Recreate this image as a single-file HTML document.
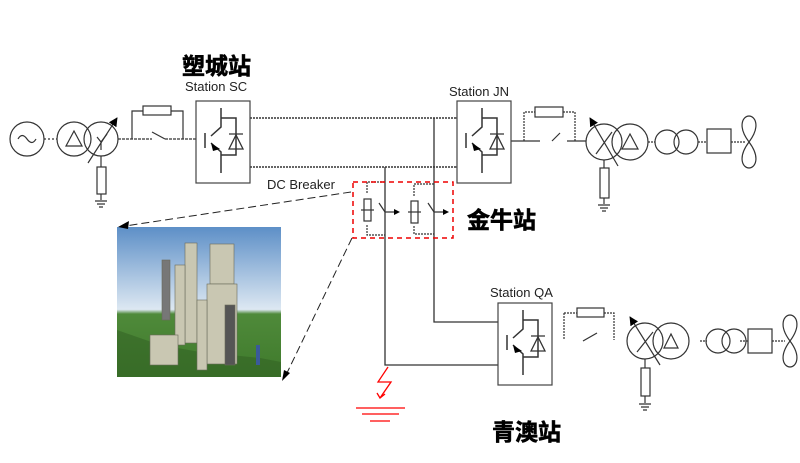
<!DOCTYPE html>
<html><head><meta charset="utf-8"><style>
body{margin:0;background:#fff;width:800px;height:463px;overflow:hidden}
svg{display:block}
text{font-family:"Liberation Sans","Noto Sans CJK SC",sans-serif}
.cn{font-weight:bold;font-size:23px;fill:#000;stroke:#000;stroke-width:0.6}
.lb{font-size:13px;fill:#222}
</style></head><body>
<svg width="800" height="463" viewBox="0 0 800 463" xmlns="http://www.w3.org/2000/svg">
<defs>
<marker id="ah" viewBox="0 0 10 10" refX="9" refY="5" markerWidth="9" markerHeight="9" orient="auto" markerUnits="userSpaceOnUse">
<path d="M0 0L10 5L0 10Z" fill="#000"/></marker>
<linearGradient id="sky" x1="0" y1="0" x2="0" y2="1">
<stop offset="0" stop-color="#5d8fc7"/><stop offset="0.55" stop-color="#dde8f2"/><stop offset="0.58" stop-color="#4f8a3a"/><stop offset="1" stop-color="#3f7a2c"/>
</linearGradient>
<g id="conv">
<rect x="0" y="0" width="54" height="82" fill="none" stroke="#444" stroke-width="1.2"/>
<path d="M25 7V26L15 35M15 42L25 51V72M9 32V47M25 17H40V54H25" fill="none" stroke="#333" stroke-width="1.5"/>
<path d="M15 42L24 48L17 50Z" fill="#000"/>
<path d="M33 48L40 34L47 48ZM33 33H47" fill="none" stroke="#333" stroke-width="1.3"/>
</g>
</defs>
<g fill="none" stroke="#333" stroke-width="1.2">
<!-- left source -->
<circle cx="27" cy="139" r="17"/><path d="M18 139q4-7 9 0t9 0"/>
<path d="M44 139H57" stroke-dasharray="2 2"/>
<circle cx="74" cy="139" r="17"/><path d="M66 146L74 131L82 146Z"/>
<circle cx="101" cy="139" r="17"/>
<path d="M88 163L117 118" marker-end="url(#ah)"/><path d="M97 137L101 142L107 134M101 142V150"/>
<path d="M101 156V167"/><rect x="97" y="167" width="9" height="27"/><path d="M101 194V200M95 201H107M97 204H105M99 207H103"/>
<path d="M118 139H152M165 139H196" stroke-dasharray="3 1"/><path d="M152 132L165 139"/>
<path d="M132 139V111H143M171 111H183V139"/><rect x="143" y="106" width="28" height="9"/>
<!-- DC lines -->
<path d="M250 118H457M250 167H457" stroke-dasharray="2 1" stroke-width="1.4"/>
<path d="M434 118V322H498M385 167V365H498" stroke-width="1.3"/>
<!-- JN right side -->
<path d="M511 141H540M552 141L560 133M567 141H586"/>
<path d="M524 141V112H535M563 112H575V141" stroke-dasharray="2 1"/><rect x="535" y="107" width="28" height="10"/>
<circle cx="604" cy="142" r="18"/><circle cx="630" cy="142" r="18"/><path d="M622 149L630 134L638 149Z"/>
<path d="M618 166L590 118" marker-end="url(#ah)"/><path d="M596 154L612 132"/>
<path d="M604 160V168"/><rect x="600" y="168" width="9" height="30"/><path d="M604 198V204M598 205H610M600 208H608M602 211H606"/>
<path d="M648 142H655M698 142H707M731 142H745" stroke-dasharray="2 1"/>
<circle cx="667" cy="142" r="12"/><circle cx="686" cy="142" r="12"/>
<rect x="707" y="129" width="24" height="24"/>
<path d="M749 142C737 126 743 116 749 116C755 116 761 126 749 142C737 158 743 168 749 168C755 168 761 158 749 142Z"/>
<!-- QA right side -->
<path d="M564 313V340M564 313H577M604 313H614V340" stroke-dasharray="2 1"/>
<path d="M583 341L597 333"/>
<rect x="577" y="308" width="27" height="9"/>
<circle cx="645" cy="341" r="18"/><circle cx="671" cy="341" r="18"/><path d="M664 348L671 334L678 348Z"/>
<path d="M660 365L630 317" marker-end="url(#ah)"/><path d="M637 352L653 332"/>
<path d="M645 359V368"/><rect x="641" y="368" width="9" height="28"/><path d="M645 396V403M639 404H651M641 407H649M643 410H647"/>
<path d="M700 341H707M740 341H748M772 341H785" stroke-dasharray="2 1"/>
<circle cx="718" cy="341" r="12"/><circle cx="734" cy="341" r="12"/>
<rect x="748" y="329" width="24" height="24"/>
<path d="M790 341C778 325 784 315 790 315C796 315 802 325 790 341C778 357 784 367 790 367C796 367 802 357 790 341Z"/>
<!-- DC breaker internals -->
<path d="M385 182H367V194M367 225V235H385" stroke-dasharray="2 1"/>
<rect x="364" y="199" width="7" height="22"/><path d="M361 210H374"/>
<path d="M379 203L385 212M385 212H397"/>
<path d="M434 184H414V196M414 226V234H434" stroke-dasharray="2 1"/>
<rect x="411" y="201" width="7" height="22"/><path d="M408 212H421"/>
<path d="M428 203L434 212M434 212H445"/>
</g>
<path d="M394 209L400 212L394 215Z" fill="#000"/><path d="M443 209L449 212L443 215Z" fill="#000"/>
<use href="#conv" x="196" y="101"/>
<use href="#conv" x="457" y="101"/>
<use href="#conv" x="498" y="303"/>
<path d="M185 139H196M457 167H450M457 118H450" stroke="#333" stroke-dasharray="2 2"/>
<!-- red breaker box -->
<rect x="353" y="182" width="100" height="56" fill="none" stroke="#e00" stroke-width="1.5" stroke-dasharray="5 4"/>
<!-- fault -->
<g stroke="#f00" stroke-width="1.3" fill="none">
<path d="M388 367L378 382L391 382L380 398M377 393L380 398L385 394"/>
<path d="M356 408H405M362 414H399M370 421H390"/>
</g>
<!-- photo -->
<rect x="117" y="227" width="164" height="150" fill="url(#sky)"/>
<path d="M117 330L160 345L200 352L260 358L281 362V377H117Z" fill="#2f5e22" opacity="0.5"/>
<g fill="#c9c7b2" stroke="#6a6a5a" stroke-width="0.6">
<rect x="185" y="243" width="12" height="100"/><rect x="175" y="265" width="10" height="80"/>
<rect x="210" y="244" width="24" height="40"/><rect x="207" y="284" width="30" height="80"/>
<rect x="197" y="300" width="10" height="70"/><rect x="150" y="335" width="28" height="30"/>
<rect x="225" y="305" width="10" height="60" fill="#555"/><rect x="162" y="260" width="8" height="60" fill="#777"/>
</g>
<path d="M256 345h4v20h-4z" fill="#3a5a9a"/>
<!-- dash arrows from breaker to photo -->
<path d="M351 192L125 226" stroke="#222" stroke-width="1" stroke-dasharray="8 4" fill="none"/>
<path d="M118 227L129 221L128 229Z" fill="#000"/>
<path d="M352 238L286 375" stroke="#222" stroke-width="1" stroke-dasharray="8 4" fill="none"/>
<path d="M282 381L284 370L290 373Z" fill="#000"/>
<!-- labels -->
<text class="cn" x="182" y="74">塑城站</text>
<text class="lb" x="185" y="91">Station SC</text>
<text class="lb" x="449" y="96">Station JN</text>
<text class="lb" x="267" y="189">DC Breaker</text>
<text class="cn" x="467" y="228">金牛站</text>
<text class="lb" x="490" y="297">Station QA</text>
<text class="cn" x="492" y="440">青澳站</text>
</svg>
</body></html>
